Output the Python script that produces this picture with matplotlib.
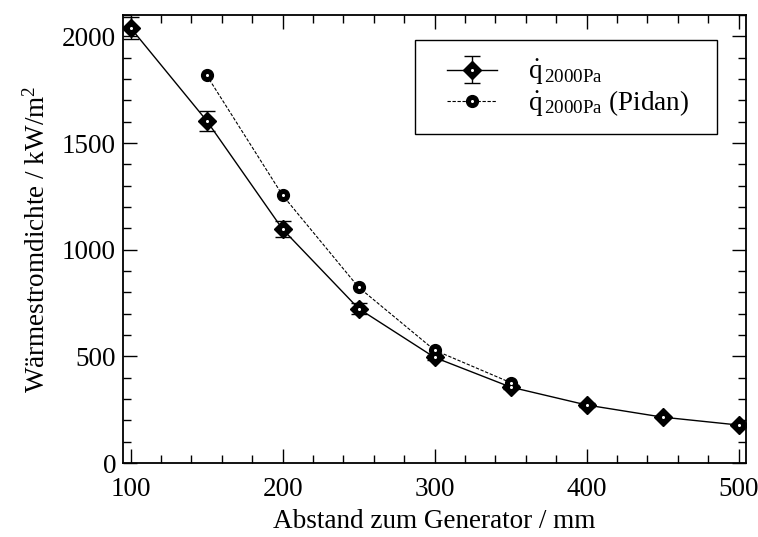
import matplotlib
matplotlib.use("Agg")
import matplotlib.pyplot as plt
from matplotlib.ticker import MultipleLocator
from matplotlib.legend_handler import HandlerTuple
from matplotlib.patches import Rectangle

plt.rcParams['font.family'] = ['Liberation Serif', 'DejaVu Serif']
plt.rcParams['mathtext.fontset'] = 'custom'
plt.rcParams['mathtext.rm'] = 'Liberation Serif'
plt.rcParams['mathtext.it'] = 'Liberation Serif'

x_main = [100, 150, 200, 250, 300, 350, 400, 450, 500]
q_main = [2040, 1605, 1096, 724, 495, 356, 272, 215, 178]
q_err = [50, 47, 37, 26, 12, 10, 8, 6, 6]

x_pidan = [150, 200, 250, 300, 350]
q_pidan = [1818, 1255, 824, 529, 377]

label_main = r'$\dot{\mathrm{q}}_{\,\mathrm{2000Pa}}$'
label_pidan = r'$\dot{\mathrm{q}}_{\,\mathrm{2000Pa}}$ (Pidan)'

FS = 19.5

fig = plt.figure(figsize=(7.58, 5.37), dpi=100)
ax = fig.add_axes([0.1623, 0.1378, 0.822, 0.8342])

eb = ax.errorbar(x_main, q_main, yerr=q_err, color='black', lw=1.0,
                 marker='D', ms=9, mfc='black', mec='black',
                 capsize=6, elinewidth=1.0, capthick=1.0, zorder=3)
d1, = ax.plot(x_main, q_main, ls='none', marker='o', ms=2.2, mfc='white',
              mew=0, zorder=4)
l2, = ax.plot(x_pidan, q_pidan, color='black', lw=0.8, ls=(0, (3, 1.5)),
              marker='o', ms=8.5, mfc='black', mec='black', zorder=3)
d2, = ax.plot(x_pidan, q_pidan, ls='none', marker='o', ms=2.2, mfc='white',
              mew=0, zorder=4)

ax.set_xlim(95, 505)
ax.set_ylim(0, 2100)
ax.xaxis.set_major_locator(MultipleLocator(100))
ax.xaxis.set_minor_locator(MultipleLocator(20))
ax.yaxis.set_major_locator(MultipleLocator(500))
ax.yaxis.set_minor_locator(MultipleLocator(100))
ax.tick_params(which='both', direction='in', top=True, right=True,
               labelsize=FS, width=1.0)
ax.tick_params(which='major', length=10)
ax.tick_params(which='minor', length=6)
ax.tick_params(axis='x', pad=10)
ax.tick_params(axis='y', pad=5)
for s in ax.spines.values():
    s.set_linewidth(1.3)

ax.set_xlabel('Abstand zum Generator / mm', fontsize=FS, labelpad=5)
ax.set_ylabel('Wärmestromdichte / kW/m$^2$', fontsize=FS, labelpad=8)

# legend frame
ax.add_patch(Rectangle((0.469, 0.735), 0.485, 0.209, transform=ax.transAxes,
                       facecolor='white', edgecolor='black', lw=1.0, zorder=5))

leg = ax.legend([(eb, d1), (l2, d2)], [label_main, label_pidan],
                handler_map={tuple: HandlerTuple(ndivide=1, pad=0)},
                loc='center left', bbox_to_anchor=(0.520, 0.837),
                fontsize=FS, frameon=False,
                handlelength=1.85, handletextpad=1.15, borderpad=0,
                labelspacing=0.05, borderaxespad=0)
leg.set_zorder(6)

fig.savefig('out.png', dpi=100)
